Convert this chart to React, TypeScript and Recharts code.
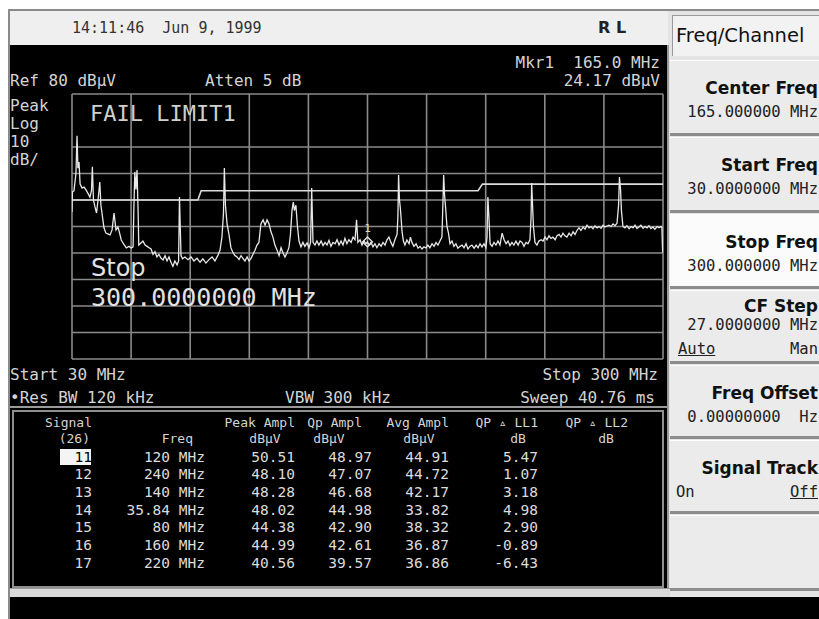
import { LineChart, Line, XAxis, YAxis, CartesianGrid, ReferenceDot } from "recharts";

const freqTicks = [30, 57, 84, 111, 138, 165, 192, 219, 246, 273, 300];
const levelTicks = [-20, -10, 0, 10, 20, 30, 40, 50, 60, 70, 80];

// LIMIT1 corners (dBuV)
const limitFreq = [30, 87.5, 89, 215.5, 217.5, 300];
const limitLevel = [40, 40, 43.5, 43.5, 46, 46];

const markerFreq = 165;
const markerLevel = 24.17;

// trace: [MHz, dBuV]
const trace: [number, number][] = [
	[30, 35.5], [30.2, 43], [30.9, 43.5], [31.8, 50], [32.3, 64.2], [32.7, 52], [33.2, 54.3], [33.7, 46],
	[34.6, 44.5], [35.5, 44.9], [36.4, 43.8], [37.3, 42.5], [38.2, 41.1], [38.9, 43.5], [39.3, 52.5], [39.8, 40],
	[40.5, 37.4], [41.2, 35.1], [41.9, 40], [42.7, 46.8], [43.2, 38], [43.7, 35.1], [44.6, 29.5], [45.5, 27.5],
	[46.4, 27.2], [47.4, 26.8], [48.3, 28.7], [49.2, 35.1], [50.1, 28.7], [51, 29.8], [51.9, 27], [52.5, 24.9],
	[53.5, 23.5], [54.8, 21.9], [56, 22.5], [57.1, 21.9], [57.9, 22.3], [58.3, 38], [58.7, 50.6], [59.2, 44],
	[59.7, 51.3], [60.2, 36], [60.5, 23], [61.5, 23.8], [62.4, 24.5], [63.4, 23], [64.3, 22.5], [65.2, 22],
	[66.1, 21.5], [67, 19.5], [67.9, 20.5], [68.8, 18.5], [69.7, 19.5], [70.7, 18], [71.6, 17.4], [72.5, 19],
	[73.4, 17], [74.3, 18.5], [75.2, 16.5], [76.1, 15], [77, 17], [78, 15.5], [78.7, 17], [79.1, 41.1],
	[79.8, 19], [80.5, 17.8], [81.6, 18.5], [83, 17.5], [84.4, 18.5], [85.7, 17], [87.1, 18], [88.5, 16.5],
	[89.8, 17.8], [91.2, 16.2], [92.6, 17.5], [94, 18.5], [95.3, 17], [96.7, 19.2], [97.6, 21], [98.5, 26],
	[99.2, 35], [99.6, 52.1], [100.1, 38], [100.8, 31.3], [101.7, 27], [102.6, 22], [103.6, 20], [104.5, 19],
	[105.4, 18.5], [106.3, 17.5], [107.2, 19], [108.1, 18], [109, 17], [110, 18.5], [110.9, 17], [111.8, 18],
	[112.7, 19.5], [113.6, 21], [114.5, 23], [115.4, 24], [116.3, 31], [117.3, 32.5], [118.2, 30.5], [119.1, 32.5],
	[120, 31], [120.9, 28], [121.8, 26], [122.7, 23], [123.7, 21], [124.6, 19], [125.5, 22], [126.4, 20],
	[127.3, 18.5], [128.2, 20], [129.1, 22], [129.8, 27], [130.5, 36], [131.1, 39.2], [131.6, 36], [132.3, 38],
	[133, 30], [133.7, 24.5], [134.6, 22.3], [135.5, 24], [136.4, 22.5], [137.4, 23.8], [138.3, 22], [139, 24],
	[139.5, 44.5], [140.1, 24], [141, 23], [141.9, 24.5], [142.8, 23], [143.8, 24.5], [144.7, 22.8], [145.6, 24],
	[146.5, 23], [147.4, 24.8], [148.3, 22.5], [149.2, 24], [150.2, 23.5], [151.1, 25], [152, 23], [152.9, 24.5],
	[153.8, 23], [154.7, 25.5], [155.6, 23.5], [156.5, 25], [157.5, 24], [158.4, 26], [159.3, 25], [160, 32.5],
	[160.6, 24], [161.6, 25], [162.5, 23], [163.4, 24.5], [164.3, 23.5], [165, 24.17], [165.7, 23], [166.6, 24],
	[167.5, 22.3], [168.4, 23.5], [169.3, 22], [170.3, 23.5], [171.2, 22.5], [172.1, 24], [173, 23], [173.9, 25],
	[174.8, 26], [175.7, 24], [176.6, 22.5], [177.5, 24.9], [178.5, 27], [178.9, 34], [179.2, 49.4], [179.6, 40],
	[180, 37], [180.8, 28], [181.4, 24.5], [182.1, 23], [183, 24.9], [184, 23.5], [184.6, 26], [185.3, 24],
	[186.2, 22.5], [187.2, 23.5], [188.1, 21.8], [189, 22.5], [189.9, 21.5], [190.8, 22.3], [191.7, 21.9], [192.6, 23],
	[193.5, 22], [194.5, 23.5], [195.4, 22.5], [196.3, 24], [197.2, 23], [198.1, 24.5], [199, 26], [199.5, 40],
	[199.8, 49.4], [200.2, 42], [200.6, 38], [201.3, 30], [202, 27.5], [202.7, 23.5], [203.6, 24.5], [204.5, 22.5],
	[205.4, 23.5], [206.3, 21.8], [207.3, 22.5], [208.2, 23], [209.1, 22], [210, 23.5], [210.9, 21.5], [211.8, 22.5],
	[212.7, 23], [213.7, 21.8], [214.6, 23], [215.5, 22], [216.4, 23.5], [217.3, 22.3], [218.2, 23.5], [219.1, 22],
	[219.6, 26], [220, 41.1], [220.5, 33], [221, 23.5], [221.9, 22.5], [222.8, 24], [223.7, 23], [224.6, 24.5],
	[225.5, 23], [226.5, 27.5], [227.4, 25], [228.3, 23.5], [229.2, 24.5], [230.1, 22.8], [231, 24], [231.9, 23],
	[232.8, 24.5], [233.8, 23], [234.7, 24.5], [235.6, 24], [236.5, 22.5], [237.4, 24], [238.3, 23.5], [239.2, 25],
	[239.7, 33], [240, 46.4], [240.4, 38], [240.8, 30], [241.5, 24], [242.4, 23], [243.3, 24.5], [244.3, 25],
	[245.2, 24.5], [246.1, 26], [247, 25], [247.9, 26.5], [248.8, 25.5], [249.7, 26], [250.7, 25], [251.6, 26.5],
	[252.5, 27], [253.4, 26], [254.3, 27.5], [255.2, 26.5], [256.1, 26], [257.1, 27.5], [258, 26.5], [258.9, 28],
	[259.8, 27], [260.7, 28.5], [261.6, 29.5], [262.5, 28.5], [263.5, 29.8], [264.4, 29], [265.3, 30.5], [266.2, 29.5],
	[267.1, 30], [268, 29.2], [268.9, 30.2], [269.9, 29.5], [270.8, 30], [271.7, 29.3], [272.6, 30.5], [273.5, 29.8],
	[274.4, 30.2], [275.3, 30.5], [276.3, 30], [277.2, 31], [278.1, 30.3], [279, 31.3], [279.7, 38], [280.1, 48.7],
	[280.6, 44], [281, 36], [281.7, 30], [282.6, 29.5], [283.5, 30.3], [284.5, 29.2], [285.4, 30], [286.3, 29.5],
	[287.2, 30.5], [288.1, 29.2], [289, 29.8], [289.9, 30.5], [290.9, 29.3], [291.8, 30], [292.7, 29.5], [293.6, 30.3],
	[294.5, 29.2], [295.4, 29.8], [296.3, 29], [297.3, 30], [298.2, 29.5], [299.1, 30], [299.5, 29.5], [299.8, 21],
	[300, 20],
];

// signal list table
const sigNums = ["11", "12", "13", "14", "15", "16", "17"];
const sigFreqs = ["120 MHz", "240 MHz", "140 MHz", "35.84 MHz", "80 MHz", "160 MHz", "220 MHz"];
const peakAmpl = ["50.51", "48.10", "48.28", "48.02", "44.38", "44.99", "40.56"];
const qpAmpl = ["48.97", "47.07", "46.68", "44.98", "42.90", "42.61", "39.57"];
const avgAmpl = ["44.91", "44.72", "42.17", "33.82", "38.32", "36.87", "36.86"];
const qpDeltaLL1 = ["5.47", "1.07", "3.18", "4.98", "2.90", "-0.89", "-6.43"];

const MONO = "'DejaVu Sans Mono', 'Liberation Mono', monospace";
const SANS = "'DejaVu Sans', 'Noto Sans', sans-serif";
const W = 819;
const KEY_RIGHT = 818;

function T({
	x,
	y,
	right,
	center,
	size = 16,
	color = "#d4d4d4",
	family = MONO,
	weight = 400,
	children,
	style,
}: {
	x: number;
	y: number;
	right?: boolean;
	center?: boolean;
	size?: number;
	color?: string;
	family?: string;
	weight?: number;
	children: React.ReactNode;
	style?: React.CSSProperties;
}) {
	const h = Math.round(size * 1.15);
	const pos: React.CSSProperties = right
		? { right: W - x }
		: center
			? { left: x - 100, width: 200, textAlign: "center" }
			: { left: x };
	return (
		<div
			style={{
				position: "absolute",
				top: y - h / 2,
				height: h,
				lineHeight: `${h}px`,
				fontSize: size,
				fontFamily: family,
				fontWeight: weight,
				color,
				whiteSpace: "pre",
				...pos,
				...style,
			}}
		>
			{children}
		</div>
	);
}

const softkeys = [
	{ title: "Center Freq", value: "165.000000 MHz", top: 60, h: 75 },
	{ title: "Start Freq", value: "30.0000000 MHz", top: 137, h: 75 },
	{ title: "Stop Freq", value: "300.000000 MHz", top: 214, h: 74, active: true },
	{ title: "CF Step", value: "27.0000000 MHz", top: 290, h: 73, auto: true },
	{ title: "Freq Offset", value: "0.00000000  Hz", top: 365, h: 73 },
	{ title: "Signal Track", value: "", top: 440, h: 73, onoff: true },
	{ title: "", value: "", top: 515, h: 75 },
];

function Marker(props: { cx?: number; cy?: number }) {
	const { cx = 0, cy = 0 } = props;
	return (
		<g>
			<polygon
				points={`${cx},${cy - 5} ${cx + 5},${cy} ${cx},${cy + 5} ${cx - 5},${cy}`}
				fill="none"
				stroke="#e6e6e6"
				strokeWidth={1.3}
			/>
			<text x={cx} y={cy - 10} fill="#d8d8d8" fontSize={11} fontFamily={MONO} textAnchor="middle">
				1
			</text>
		</g>
	);
}

export default function App() {
	const traceData = trace.map(([f, a]) => ({ f, a }));
	const limitData = limitFreq.map((f, i) => ({ f, lvl: limitLevel[i] }));

	const cols = [
		{ x: 92, vals: sigNums },
		{ x: 205, vals: sigFreqs },
		{ x: 295, vals: peakAmpl },
		{ x: 372, vals: qpAmpl },
		{ x: 449, vals: avgAmpl },
		{ x: 538, vals: qpDeltaLL1 },
	];
	const rowY = (i: number) => 457 + i * 17.7;

	return (
		<div
			style={{
				position: "absolute",
				left: 0,
				top: 0,
				width: W,
				height: 619,
				background: "#ffffff",
				overflow: "hidden",
			}}
		>
			{/* screen frame */}
			<div style={{ position: "absolute", left: 8, top: 9, width: 811, height: 610, background: "#e4e4e4", borderLeft: "2px solid #8a8a8a", borderTop: "2px solid #8a8a8a" }} />
			{/* header bar */}
			<div style={{ position: "absolute", left: 10, top: 11, width: 658, height: 34, background: "#efefef" }} />
			<T x={72} y={28} size={15} color="#333">14:11:46  Jun 9, 1999</T>
			<T x={598} y={28} size={16} color="#222" family={SANS} weight={700}>R L</T>

			{/* black display */}
			<div style={{ position: "absolute", left: 10, top: 45, width: 657, height: 552, background: "#000", borderRight: "2px solid #9a9a9a" }} />
			<div style={{ position: "absolute", left: 10, top: 406, width: 657, height: 2, background: "#9a9a9a" }} />
			<div style={{ position: "absolute", left: 12, top: 410, width: 648, height: 174, border: "2px solid #8e8e8e" }} />
			<div style={{ position: "absolute", left: 10, top: 588, width: 660, height: 9, background: "#dadada", borderTop: "1px solid #9a9a9a" }} />
			<div style={{ position: "absolute", left: 10, top: 597, width: 809, height: 22, background: "#000" }} />

			{/* display annotations */}
			<T x={660} y={63} right>Mkr1  165.0 MHz</T>
			<T x={660} y={81} right>24.17 dBµV</T>
			<T x={10} y={81}>Ref 80 dBµV</T>
			<T x={205} y={81}>Atten 5 dB</T>
			<T x={10} y={106}>Peak</T>
			<T x={10} y={124}>Log</T>
			<T x={10} y={142}>10</T>
			<T x={10} y={160}>dB/</T>

			<div style={{ position: "absolute", left: 70, top: 92 }}>
				<LineChart width={595} height={269} data={traceData} margin={{ top: 2, right: 2, bottom: 2, left: 2 }}>
					<XAxis dataKey="f" type="number" domain={[30, 300]} ticks={freqTicks} hide allowDataOverflow />
					<YAxis type="number" domain={[-20, 80]} ticks={levelTicks} hide allowDataOverflow />
					<CartesianGrid stroke="#8a8a8a" strokeWidth={1.6} />
					<Line
						data={limitData}
						dataKey="lvl"
						type="linear"
						stroke="#dcdcdc"
						strokeWidth={1.6}
						dot={false}
						isAnimationActive={false}
					/>
					<Line
						dataKey="a"
						type="linear"
						stroke="#e8e8e8"
						strokeWidth={1.3}
						dot={false}
						isAnimationActive={false}
					/>
					<ReferenceDot x={markerFreq} y={markerLevel} shape={(p: any) => <Marker {...p} />} />
				</LineChart>
			</div>

			<T x={90} y={113} size={22} color="#cfcfcf">FAIL LIMIT1</T>
			<T x={91} y={268} size={24} color="#e2e2e2" family={SANS}>Stop</T>
			<T x={91} y={297} size={25} color="#e2e2e2">300.0000000 MHz</T>

			<T x={10} y={375}>Start 30 MHz</T>
			<T x={658} y={375} right>Stop 300 MHz</T>
			<T x={10} y={398}>•Res BW 120 kHz</T>
			<T x={285} y={398}>VBW 300 kHz</T>
			<T x={655} y={398} right>Sweep 40.76 ms</T>

			{/* signal list */}
			<T x={92} y={422} right size={13}>Signal</T>
			<T x={90} y={438} right size={13}>(26)</T>
			<T x={193} y={438} right size={13}>Freq</T>
			<T x={295} y={422} right size={13}>Peak Ampl</T>
			<T x={265} y={438} center size={13}>dBµV</T>
			<T x={362} y={422} right size={13}>Qp Ampl</T>
			<T x={329} y={438} center size={13}>dBµV</T>
			<T x={449} y={422} right size={13}>Avg Ampl</T>
			<T x={419} y={438} center size={13}>dBµV</T>
			<T x={538} y={422} right size={13}>QP ▵ LL1</T>
			<T x={518} y={438} center size={13}>dB</T>
			<T x={628} y={422} right size={13}>QP ▵ LL2</T>
			<T x={606} y={438} center size={13}>dB</T>
			<div style={{ position: "absolute", left: 60, top: 449, width: 31, height: 16, background: "#f4f4f4" }} />
			{cols.map((c) =>
				c.vals.map((v, i) => (
					<T key={`${c.x}-${i}`} x={c.x} y={rowY(i)} right size={14.5} color={c.x === 92 && i === 0 ? "#000" : "#dcdcdc"}>
						{v}
					</T>
				)),
			)}

			{/* softkey panel */}
			<div style={{ position: "absolute", left: 672, top: 15, width: 160, height: 40, background: "#f2f2f2", borderTop: "1px solid #9a9a9a", borderLeft: "1px solid #9a9a9a" }} />
			<T x={676} y={36} size={19.5} color="#111" family={SANS}>Freq/Channel</T>
			{softkeys.map((k) => (
				<div key={k.top}>
					<div
						style={{
							position: "absolute",
							left: 670,
							top: k.top,
							width: 160,
							height: k.h - 3,
							background: k.active ? "#fbfbfb" : "#ebebeb",
							borderTop: "1px solid #ffffff",
							borderBottom: "3px solid #8c8c8c",
						}}
					/>
					{k.title && (
						<T x={KEY_RIGHT} y={k.top + (k.auto ? 16 : 28)} right size={17} color="#111" family={SANS} weight={700}>
							{k.title}
						</T>
					)}
					{k.value && (
						<T x={KEY_RIGHT} y={k.top + (k.auto ? 35 : 52)} right size={15.5} color="#222">
							{k.value}
						</T>
					)}
					{k.auto && (
						<>
							<T x={678} y={k.top + 59} size={15.5} color="#222" style={{ textDecoration: "underline" }}>Auto</T>
							<T x={KEY_RIGHT} y={k.top + 59} right size={15.5} color="#222">Man</T>
						</>
					)}
					{k.onoff && (
						<>
							<T x={676} y={k.top + 52} size={15.5} color="#222">On</T>
							<T x={KEY_RIGHT} y={k.top + 52} right size={15.5} color="#222" style={{ textDecoration: "underline" }}>Off</T>
						</>
					)}
				</div>
			))}
		</div>
	);
}
